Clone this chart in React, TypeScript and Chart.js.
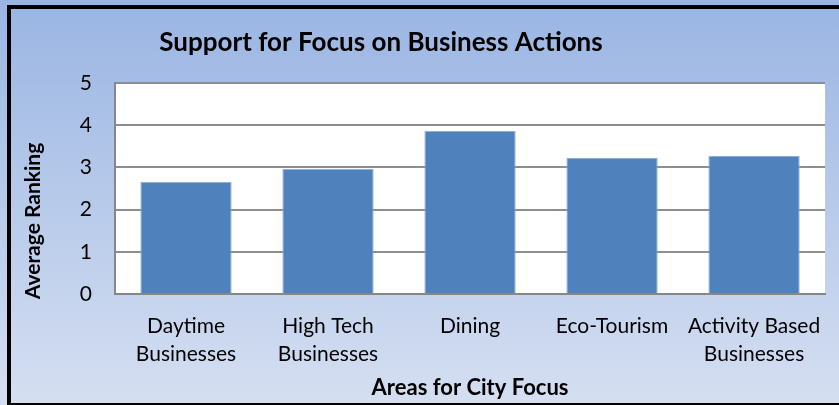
import React, { useEffect, useRef } from "react";
import { Chart, registerables } from "chart.js";

Chart.register(...registerables);

const chartTitle = "Support for Focus on Business Actions";
const xAxisTitle = "Areas for City Focus";
const yAxisTitle = "Average Ranking";
const categories: (string | string[])[] = [
  ["Daytime", "Businesses"],
  ["High Tech", "Businesses"],
  "Dining",
  "Eco-Tourism",
  ["Activity Based", "Businesses"],
];
const averageRanking = [2.66, 2.97, 3.87, 3.22, 3.27];
const yMin = 0;
const yMax = 5;
const yStep = 1;

const FONT = "Lato, 'Open Sans', sans-serif";

const frame = {
  id: "frame",
  beforeDraw(chart: any) {
    const { ctx, width, height } = chart;
    ctx.save();
    const g = ctx.createLinearGradient(0, 0, 0, height);
    g.addColorStop(0, "#9AB5E3");
    g.addColorStop(1, "#D5DFF1");
    ctx.fillStyle = g;
    ctx.fillRect(0, 0, width, height);
    const a = chart.chartArea;
    ctx.fillStyle = "#FFFFFF";
    ctx.fillRect(a.left, a.top, a.right - a.left, a.bottom - a.top);
    ctx.fillStyle = "#000000";
    ctx.fillRect(7, 5, width, 4);
    ctx.fillRect(7, 5, 4, height);
    ctx.fillRect(7, height - 2, width, 2);
    ctx.restore();
  },
  afterDraw(chart: any) {
    const { ctx } = chart;
    ctx.save();
    ctx.fillStyle = "#000000";
    ctx.textAlign = "center";
    ctx.textBaseline = "middle";
    ctx.font = `bold 26px ${FONT}`;
    ctx.fillText(chartTitle, 381, 43);
    ctx.translate(33, 221);
    ctx.rotate(-Math.PI / 2);
    ctx.font = `bold 21px ${FONT}`;
    ctx.fillText(yAxisTitle, 0, 0);
    ctx.restore();
  },
};

export default function App() {
  const ref = useRef<HTMLCanvasElement | null>(null);
  useEffect(() => {
    document.body.style.margin = "0";
    const canvas = ref.current!;
    const chart = new Chart(canvas, {
      type: "bar",
      data: {
        labels: categories,
        datasets: [
          {
            label: yAxisTitle,
            data: averageRanking,
            backgroundColor: "#4F81BD",
            borderColor: "#8DB0DD",
            borderWidth: 1,
            barPercentage: 0.643,
            categoryPercentage: 1,
          },
        ],
      },
      options: {
        responsive: false,
        animation: false,
        layout: { padding: { top: 83, right: 8, left: 0, bottom: 0 } },
        plugins: {
          legend: { display: false },
          tooltip: { enabled: false },
          title: { display: false },
        },
        scales: {
          x: {
            grid: { display: false, drawTicks: false, tickLength: 0 },
            border: { display: true, color: "#878787", width: 2 },
            ticks: {
              color: "#000000",
              padding: 18,
              font: { family: FONT, size: 21, lineHeight: 1.333 },
              maxRotation: 0,
              autoSkip: false,
            },
            title: {
              display: true,
              text: xAxisTitle,
              color: "#000000",
              font: { family: FONT, size: 22, weight: "bold" },
              padding: { top: 0, bottom: 4 },
            },
            afterFit(s: any) {
              s.height = 111;
            },
          },
          y: {
            min: yMin,
            max: yMax,
            grid: { color: "#8E8E8E", lineWidth: 2, drawTicks: false, tickLength: 0 },
            border: { display: true, color: "#878787", width: 2 },
            ticks: {
              stepSize: yStep,
              color: "#000000",
              padding: 23,
              font: { family: FONT, size: 21 },
            },
            afterFit(s: any) {
              s.width = 115;
            },
          },
        },
      },
      plugins: [frame],
    });
    return () => chart.destroy();
  }, []);
  return (
    <div style={{ width: 839, height: 405 }}>
      <canvas ref={ref} width={839} height={405} style={{ display: "block" }} />
    </div>
  );
}
